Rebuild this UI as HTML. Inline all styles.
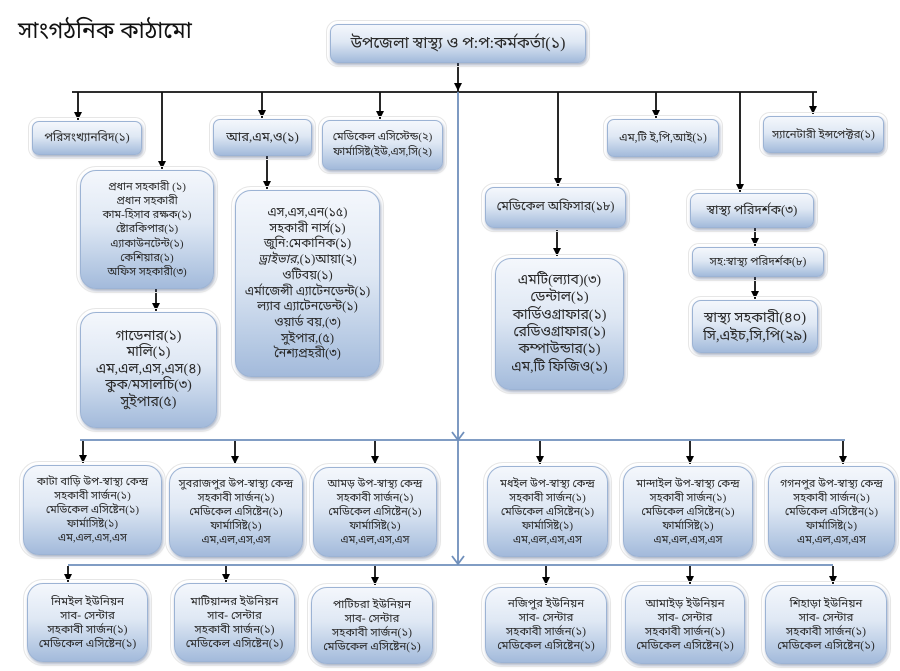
<!DOCTYPE html>
<html>
<head>
<meta charset="utf-8">
<style>
  html,body{margin:0;padding:0;background:#fff;}
  body{width:900px;height:671px;position:relative;overflow:hidden;
    font-family:"Liberation Serif","Noto Sans Bengali","Noto Serif Bengali","Lohit Bengali","FreeSerif",serif;color:#2a2a2a;}
  .b{position:absolute;box-sizing:border-box;border:1px solid #9cb3d4;border-radius:10px;
    background:linear-gradient(to bottom,#f4f7fc 0%,#dfe8f4 45%,#b3c7e2 85%,#a3badb 100%);
    box-shadow:1px 2px 3px rgba(60,80,120,0.45);
    display:flex;flex-direction:column;align-items:center;justify-content:center;text-align:center;
    outline:1px solid #e6e6e6;outline-offset:3px;white-space:nowrap;}
  .r{border-radius:16px;}
  .t{position:absolute;left:18px;top:18px;font-size:23px;color:#111;}
  svg{position:absolute;left:0;top:0;}
</style>
</head>
<body>
<div class="t">সাংগঠনিক কাঠামো</div>

<svg width="900" height="671" viewBox="0 0 900 671">
  <defs>
    <marker id="a" markerWidth="9" markerHeight="9" refX="8" refY="4" orient="auto" markerUnits="userSpaceOnUse">
      <path d="M0,0 L8,4 L0,8 Z" fill="#000"/>
    </marker>
  </defs>
  <g stroke="#111" stroke-width="1.8" fill="none">
    <line x1="458" y1="63" x2="458" y2="91" marker-end="url(#a)"/>
    <line x1="72" y1="92" x2="817" y2="92"/>
    <line x1="78" y1="92" x2="78" y2="120" marker-end="url(#a)"/>
    <line x1="162" y1="92" x2="162" y2="169" marker-end="url(#a)"/>
    <line x1="262" y1="92" x2="262" y2="118" marker-end="url(#a)"/>
    <line x1="380" y1="92" x2="380" y2="119" marker-end="url(#a)"/>
    <line x1="558" y1="92" x2="558" y2="186" marker-end="url(#a)"/>
    <line x1="656" y1="92" x2="656" y2="118" marker-end="url(#a)"/>
    <line x1="740" y1="92" x2="740" y2="192" marker-end="url(#a)"/>
    <line x1="813" y1="92" x2="813" y2="114" marker-end="url(#a)"/>
    <line x1="156" y1="289" x2="156" y2="311" marker-end="url(#a)"/>
    <line x1="267" y1="156" x2="267" y2="189" marker-end="url(#a)"/>
    <line x1="557" y1="230" x2="557" y2="256" marker-end="url(#a)"/>
    <line x1="755" y1="228" x2="755" y2="246" marker-end="url(#a)"/>
    <line x1="755" y1="277" x2="755" y2="299" marker-end="url(#a)"/>
    <!-- row 3 arrows -->
    <line x1="83" y1="441" x2="83" y2="463" marker-end="url(#a)"/>
    <line x1="235" y1="441" x2="235" y2="464" marker-end="url(#a)"/>
    <line x1="375" y1="441" x2="375" y2="464" marker-end="url(#a)"/>
    <line x1="540" y1="441" x2="540" y2="464" marker-end="url(#a)"/>
    <line x1="690" y1="441" x2="690" y2="464" marker-end="url(#a)"/>
    <line x1="843" y1="441" x2="843" y2="464" marker-end="url(#a)"/>
    <!-- row 4 arrows -->
    <line x1="68" y1="566" x2="68" y2="582" marker-end="url(#a)"/>
    <line x1="226" y1="566" x2="226" y2="582" marker-end="url(#a)"/>
    <line x1="375" y1="566" x2="375" y2="585" marker-end="url(#a)"/>
    <line x1="546" y1="566" x2="546" y2="585" marker-end="url(#a)"/>
    <line x1="690" y1="566" x2="690" y2="584" marker-end="url(#a)"/>
    <line x1="833" y1="566" x2="833" y2="584" marker-end="url(#a)"/>
  </g>
  <g stroke="#6f8fbb" stroke-width="1.8" fill="none">
    <line x1="458" y1="92" x2="458" y2="565"/>
    <line x1="80" y1="440" x2="845" y2="440"/>
    <line x1="68" y1="565" x2="833" y2="565"/>
    <polyline points="452,432 458,440 464,432"/>
    <polyline points="452,556 458,564 464,556"/>
  </g>
</svg>

<!-- top -->
<div class="b" style="left:330px;top:24px;width:256px;height:39px;font-size:16px;border-radius:8px;">উপজেলা স্বাস্থ্য ও প:প:কর্মকর্তা(১)</div>

<!-- level 2 -->
<div class="b" style="left:32px;top:121px;width:110px;height:34px;font-size:12px;border-radius:7px;">পরিসংখ্যানবিদ(১)</div>
<div class="b" style="left:213px;top:119px;width:99px;height:37px;font-size:13px;border-radius:7px;">আর,এম,ও(১)</div>
<div class="b" style="left:322px;top:120px;width:121px;height:50px;font-size:11px;line-height:15px;border-radius:8px;"><div>মেডিকেল এসিস্টেন্ড(২)</div><div>ফার্মাসিষ্ট(ইউ,এস,সি(২)</div></div>
<div class="b" style="left:607px;top:119px;width:112px;height:38px;font-size:11.5px;border-radius:7px;">এম,টি ই,পি,আই(১)</div>
<div class="b" style="left:763px;top:116px;width:121px;height:37px;font-size:11.5px;border-radius:7px;">স্যানেটারী ইন্সপেক্টর(১)</div>

<!-- left column -->
<div class="b r" style="left:80px;top:170px;width:134px;height:119px;font-size:11px;line-height:14.2px;"><div>প্রধান সহকারী (১)</div><div>প্রধান সহকারী</div><div>কাম-হিসাব রক্ষক(১)</div><div>ষ্টোরকিপার(১)</div><div>এ্যাকাউনটেন্ট(১)</div><div>কেশিয়ার(১)</div><div>অফিস সহকারী(৩)</div></div>
<div class="b r" style="left:80px;top:312px;width:137px;height:116px;font-size:14px;line-height:16.5px;"><div>গাডেনার(১)</div><div>মালি(১)</div><div>এম,এল,এস,এস(৪)</div><div>কুক/মসালচি(৩)</div><div>সুইপার(৫)</div></div>

<!-- middle column -->
<div class="b r" style="left:235px;top:190px;width:145px;height:187px;font-size:12.5px;line-height:15.7px;"><div>এস,এস,এন(১৫)</div><div>সহকারী নার্স(১)</div><div>জুনি:মেকানিক(১)</div><div><i>ড্রাইভার</i>,(১)আয়া(২)</div><div>ওটিবয়(১)</div><div>এর্মাজেন্সী এ্যাটেনডেন্ট(১)</div><div>ল্যাব এ্যাটেনডেন্ট(১)</div><div>ওয়ার্ড বয়,(৩)</div><div>সুইপার,(৫)</div><div>নৈশ্যপ্রহরী(৩)</div></div>

<!-- right middle -->
<div class="b" style="left:485px;top:187px;width:141px;height:41px;font-size:12.5px;border-radius:9px;">মেডিকেল অফিসার(১৮)</div>
<div class="b r" style="left:495px;top:258px;width:129px;height:132px;font-size:14px;line-height:17.4px;"><div>এমটি(ল্যাব)(৩)</div><div>ডেন্টাল(১)</div><div>কার্ডিওগ্রাফার(১)</div><div>রেডিওগ্রাফার(১)</div><div>কম্পাউন্ডার(১)</div><div>এম,টি ফিজিও(১)</div></div>

<!-- right -->
<div class="b" style="left:690px;top:193px;width:124px;height:35px;font-size:13px;border-radius:8px;">স্বাস্থ্য পরিদর্শক(৩)</div>
<div class="b" style="left:692px;top:247px;width:132px;height:30px;font-size:11.5px;border-radius:7px;">সহ:স্বাস্থ্য পরিদর্শক(৮)</div>
<div class="b" style="left:692px;top:300px;width:126px;height:53px;font-size:14.5px;line-height:18px;border-radius:9px;"><div>স্বাস্থ্য সহকারী(৪০)</div><div>সি,এইচ,সি,পি(২৯)</div></div>

<!-- row 3 -->
<div class="b r" style="left:23px;top:465px;width:139px;height:90px;font-size:11px;line-height:14px;"><div>কাটা বাড়ি উপ-স্বাস্থ্য কেন্দ্র</div><div>সহকাবী সার্জন(১)</div><div>মেডিকেল এসিষ্টেন(১)</div><div>ফার্মাসিষ্ট(১)</div><div>এম,এল,এস,এস</div></div>
<div class="b r" style="left:169px;top:467px;width:134px;height:90px;font-size:11px;line-height:14px;"><div>সুবরাজপুর উপ-স্বাস্থ্য কেন্দ্র</div><div>সহকাবী সার্জন(১)</div><div>মেডিকেল এসিষ্টেন(১)</div><div>ফার্মাসিষ্ট(১)</div><div>এম,এল,এস,এস</div></div>
<div class="b r" style="left:313px;top:467px;width:124px;height:90px;font-size:11px;line-height:14px;"><div>আমড় উপ-স্বাস্থ্য কেন্দ্র</div><div>সহকাবী সার্জন(১)</div><div>মেডিকেল এসিষ্টেন(১)</div><div>ফার্মাসিষ্ট(১)</div><div>এম,এল,এস,এস</div></div>
<div class="b r" style="left:487px;top:466px;width:121px;height:91px;font-size:11px;line-height:14px;"><div>মধইল উপ-স্বাস্থ্য কেন্দ্র</div><div>সহকাবী সার্জন(১)</div><div>মেডিকেল এসিষ্টেন(১)</div><div>ফার্মাসিষ্ট(১)</div><div>এম,এল,এস,এস</div></div>
<div class="b r" style="left:623px;top:466px;width:130px;height:91px;font-size:11px;line-height:14px;"><div>মান্দাইল উপ-স্বাস্থ্য কেন্দ্র</div><div>সহকাবী সার্জন(১)</div><div>মেডিকেল এসিষ্টেন(১)</div><div>ফার্মাসিষ্ট(১)</div><div>এম,এল,এস,এস</div></div>
<div class="b r" style="left:768px;top:466px;width:127px;height:91px;font-size:11px;line-height:14px;"><div>গগনপুর উপ-স্বাস্থ্য কেন্দ্র</div><div>সহকাবী সার্জন(১)</div><div>মেডিকেল এসিষ্টেন(১)</div><div>ফার্মাসিষ্ট(১)</div><div>এম,এল,এস,এস</div></div>

<!-- row 4 -->
<div class="b r" style="left:27px;top:583px;width:121px;height:79px;font-size:11.5px;line-height:14px;"><div>নিমইল ইউনিয়ন</div><div>সাব- সেন্টার</div><div>সহকাবী সার্জন(১)</div><div>মেডিকেল এসিষ্টেন(১)</div></div>
<div class="b r" style="left:174px;top:583px;width:121px;height:79px;font-size:11.5px;line-height:14px;"><div>মাটিয়ান্দর ইউনিয়ন</div><div>সাব- সেন্টার</div><div>সহকাবী সার্জন(১)</div><div>মেডিকেল এসিষ্টেন(১)</div></div>
<div class="b r" style="left:311px;top:587px;width:122px;height:77px;font-size:11.5px;line-height:14px;"><div>পাটিচরা ইউনিয়ন</div><div>সাব- সেন্টার</div><div>সহকাবী সার্জন(১)</div><div>মেডিকেল এসিষ্টেন(১)</div></div>
<div class="b r" style="left:485px;top:587px;width:122px;height:76px;font-size:11.5px;line-height:14px;"><div>নজিপুর ইউনিয়ন</div><div>সাব- সেন্টার</div><div>সহকাবী সার্জন(১)</div><div>মেডিকেল এসিষ্টেন(১)</div></div>
<div class="b r" style="left:625px;top:585px;width:120px;height:79px;font-size:11.5px;line-height:14px;"><div>আমাইড় ইউনিয়ন</div><div>সাব- সেন্টার</div><div>সহকাবী সার্জন(১)</div><div>মেডিকেল এসিষ্টেন(১)</div></div>
<div class="b r" style="left:765px;top:585px;width:122px;height:79px;font-size:11.5px;line-height:14px;"><div>শিহাড়া ইউনিয়ন</div><div>সাব- সেন্টার</div><div>সহকাবী সার্জন(১)</div><div>মেডিকেল এসিষ্টেন(১)</div></div>

</body>
</html>
